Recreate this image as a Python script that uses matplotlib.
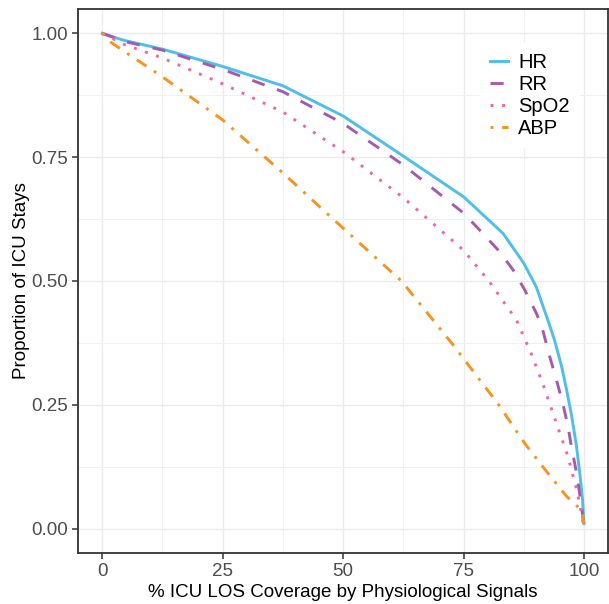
import numpy as np
import matplotlib
matplotlib.use("Agg")
import matplotlib.pyplot as plt
from matplotlib.ticker import MultipleLocator

plt.rcParams['font.family'] = ['Liberation Sans', 'DejaVu Sans']

# curves
hr_x = [0, 4.4, 12.5, 25, 37.5, 50, 62.5, 75, 83.2, 87.5, 90.1, 92.9, 93.9, 95.3, 96.3, 97.4, 98.4, 99.1, 99.7, 100]
hr_y = [1.0, 0.986, 0.968, 0.933, 0.894, 0.833, 0.752, 0.670, 0.596, 0.536, 0.488, 0.41, 0.38, 0.33, 0.285, 0.23, 0.17, 0.115, 0.06, 0.01]

rr_x = [0, 4.4, 12.5, 25, 37.5, 50, 62.5, 75, 79.0, 82.5, 85.3, 87.7, 90.1, 91.2, 92.9, 94.3, 95.6, 96.7, 97.4, 98.5, 99.5, 100]
rr_y = [1.0, 0.984, 0.966, 0.927, 0.882, 0.818, 0.734, 0.637, 0.596, 0.559, 0.522, 0.482, 0.435, 0.41, 0.347, 0.300, 0.253, 0.206, 0.165, 0.111, 0.044, 0.005]

spo2_x = [0, 4.4, 12.5, 25, 37.5, 50, 62.5, 75, 80.4, 86.0, 89.1, 91.8, 94.3, 96.7, 98.6, 100]
spo2_y = [1.0, 0.978, 0.950, 0.898, 0.841, 0.761, 0.668, 0.562, 0.498, 0.421, 0.352, 0.283, 0.212, 0.145, 0.074, 0.004]

abp_x = [0, 1.6, 5.1, 12.5, 25, 37.5, 47.9, 62.1, 72.5, 82.3, 87.7, 92.1, 96.3, 99.5, 100]
abp_y = [1.0, 0.983, 0.96, 0.912, 0.825, 0.718, 0.625, 0.5, 0.375, 0.25, 0.172, 0.117, 0.066, 0.037, 0.01]

x_ticks = [0, 25, 50, 75, 100]
y_ticks = [0.0, 0.25, 0.5, 0.75, 1.0]
y_tick_labels = ['0.00', '0.25', '0.50', '0.75', '1.00']

fig = plt.figure(figsize=(6.09, 6.04), dpi=100)
ax = fig.add_axes([0.1284, 0.0839, 0.870, 0.902])

ax.plot(hr_x, hr_y, color='#4DBFE9', lw=2.1, ls='-', label='HR')
ax.plot(rr_x, rr_y, color='#A65AAE', lw=2.1, ls=(0, (4.5, 4.5)), label='RR')
ax.plot(spo2_x, spo2_y, color='#F065A9', lw=2.1, ls=(0, (1, 3)), label='SpO2')
ax.plot(abp_x, abp_y, color='#F7941D', lw=2.1, ls=(0, (1, 3, 4, 3)), label='ABP')

ax.set_xlim(-5, 105)
ax.set_ylim(-0.05, 1.05)
ax.set_xticks(x_ticks)
ax.set_yticks(y_ticks)
ax.set_yticklabels(y_tick_labels)
ax.xaxis.set_minor_locator(MultipleLocator(12.5))
ax.yaxis.set_minor_locator(MultipleLocator(0.125))

ax.grid(which='major', color='#EBEBEB', lw=1.0)
ax.grid(which='minor', color='#F0F0F0', lw=0.8)
ax.set_axisbelow(True)
ax.tick_params(which='minor', length=0)
ax.tick_params(which='major', length=4, width=1.1, color='#333333',
               labelsize=13.5, labelcolor='#4D4D4D', pad=3)
for s in ax.spines.values():
    s.set_color('#333333')
    s.set_linewidth(1.3)

ax.set_xlabel('% ICU LOS Coverage by Physiological Signals', fontsize=13.5, labelpad=3)
ax.set_ylabel('Proportion of ICU Stays', fontsize=13.5, labelpad=1)

leg = ax.legend(loc='upper left', bbox_to_anchor=(0.758, 0.937), fontsize=14.5,
                frameon=True, facecolor='white', edgecolor='none', framealpha=1,
                handlelength=0.9, handletextpad=0.5, labelspacing=0.15,
                borderpad=0.5, borderaxespad=0, fancybox=False)

fig.savefig('out.png', dpi=100)
